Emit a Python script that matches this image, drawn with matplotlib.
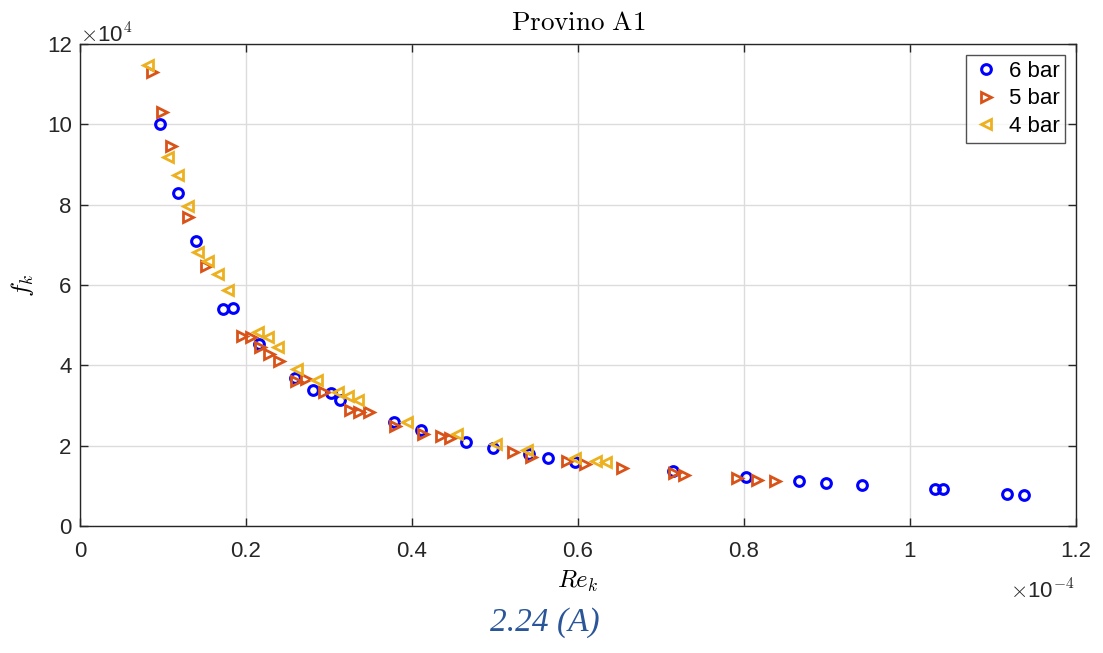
import matplotlib
matplotlib.use("Agg")
import matplotlib.pyplot as plt
import numpy as np

plt.rcParams['font.family'] = ['Liberation Sans', 'DejaVu Sans']
plt.rcParams['mathtext.fontset'] = 'cm'

# Re_k in units of 1e-4, f_k in units of 1e4
re6 = [0.0964, 0.118, 0.140, 0.172, 0.184, 0.216, 0.259, 0.281, 0.302, 0.313,
       0.378, 0.411, 0.465, 0.498, 0.541, 0.564, 0.596, 0.714, 0.802, 0.866,
       0.899, 0.942, 1.030, 1.040, 1.117, 1.137]
f6 = [10.0, 8.3, 7.1, 5.4, 5.43, 4.53, 3.68, 3.38, 3.30, 3.13,
      2.58, 2.40, 2.10, 1.93, 1.80, 1.70, 1.60, 1.38, 1.23, 1.13,
      1.08, 1.03, 0.93, 0.93, 0.80, 0.78]

re5 = [0.0867, 0.099, 0.110, 0.130, 0.152, 0.195, 0.206, 0.217, 0.228, 0.240,
       0.260, 0.272, 0.294, 0.325, 0.336, 0.348, 0.380, 0.413, 0.435, 0.446,
       0.522, 0.543, 0.587, 0.608, 0.653, 0.716, 0.728, 0.792, 0.816, 0.837]
f5 = [11.3, 10.3, 9.45, 7.7, 6.48, 4.73, 4.70, 4.45, 4.28, 4.10,
      3.60, 3.65, 3.33, 2.90, 2.85, 2.83, 2.50, 2.30, 2.23, 2.18,
      1.85, 1.73, 1.63, 1.55, 1.45, 1.33, 1.28, 1.20, 1.15, 1.13]

re4 = [0.082, 0.106, 0.118, 0.130, 0.142, 0.154, 0.166, 0.178, 0.214, 0.2265,
       0.2385, 0.261, 0.2855, 0.311, 0.323, 0.335, 0.394, 0.454, 0.501, 0.5385,
       0.596, 0.622, 0.634]
f4 = [11.48, 9.18, 8.75, 7.98, 6.83, 6.6, 6.28, 5.88, 4.83, 4.70,
      4.45, 3.90, 3.63, 3.33, 3.23, 3.13, 2.60, 2.28, 2.05, 1.90,
      1.70, 1.63, 1.60]

xticks = [0, 0.2, 0.4, 0.6, 0.8, 1, 1.2]
xlabels = ['0', '0.2', '0.4', '0.6', '0.8', '1', '1.2']
yticks = [0, 2, 4, 6, 8, 10, 12]

fig = plt.figure(figsize=(11.03, 6.53), dpi=100)
ax = fig.add_axes([0.0725, 0.1945, 0.903, 0.738])

ax.plot(re6, f6, 'o', ls='none', mfc='none', mec='#0000ff', mew=2.2, ms=7, label='6 bar')
ax.plot(re5, f5, '>', ls='none', mfc='none', mec='#D95319', mew=2, ms=7.5, label='5 bar')
ax.plot(re4, f4, '<', ls='none', mfc='none', mec='#EDB120', mew=2, ms=7.5, label='4 bar')

ax.set_xlim(0, 1.2)
ax.set_ylim(0, 12)
ax.set_xticks(xticks)
ax.set_xticklabels(xlabels)
ax.set_yticks(yticks)
ax.set_yticklabels([str(t) for t in yticks])
ax.grid(True, color='#dcdcdc', lw=1)
ax.set_axisbelow(True)
ax.tick_params(direction='in', top=True, right=True, length=6, width=1,
               labelsize=16, colors='#262626')
ax.tick_params(axis='x', pad=11)
ax.tick_params(axis='y', pad=6)
for s in ax.spines.values():
    s.set_color('#262626')
    s.set_linewidth(1)

ax.set_title(r'$\mathrm{Provino\ A1}$', fontsize=19.5, pad=10)
ax.set_xlabel(r'$Re_k$', fontsize=18, labelpad=5)
ax.set_ylabel(r'$f_k$', fontsize=18, labelpad=8)

ax.text(0.0, 0.993, r'$\times$10$^4$', transform=ax.transAxes, fontsize=16,
        color='#262626', ha='left', va='bottom', family='Liberation Sans')
ax.text(0.998, -0.112, r'$\times$10$^{-4}$', transform=ax.transAxes, fontsize=16,
        color='#262626', ha='right', va='top', family='Liberation Sans')

leg = ax.legend(loc='upper right', fontsize=16, frameon=True, fancybox=False,
                borderpad=0.25, handletextpad=0.35, labelspacing=0.3,
                handlelength=1.3, borderaxespad=0.5)
leg.get_frame().set_edgecolor('#262626')
leg.get_frame().set_linewidth(1)

fig.text(0.494, 0.046, '2.24 (A)', fontsize=24, style='italic',
         family='Liberation Serif', color='#2a5599', ha='center', va='center')

fig.savefig('out.png', dpi=100)
